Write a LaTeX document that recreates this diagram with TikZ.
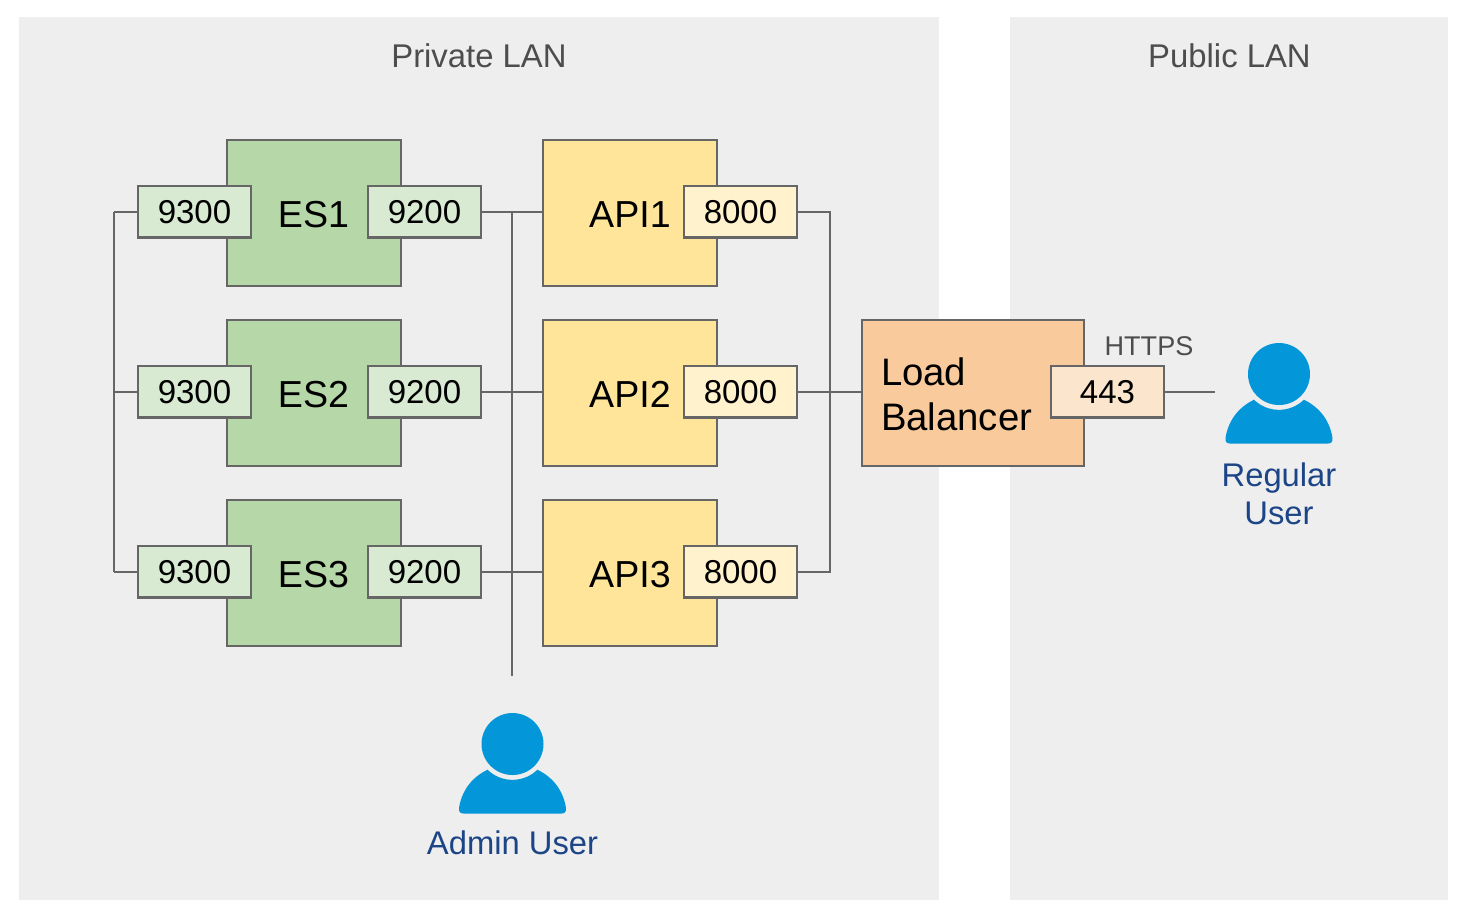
\documentclass[tikz,border=0pt]{standalone}
\usepackage{fontspec}
\setmainfont{Liberation Sans}
\usetikzlibrary{positioning}
\definecolor{mpanel}{HTML}{EEEEEE}
\definecolor{medge}{HTML}{666666}
\definecolor{mtitle}{HTML}{4D4D4D}
\definecolor{mgreen}{HTML}{B6D7A8}
\definecolor{mgreenl}{HTML}{D9EAD3}
\definecolor{myellow}{HTML}{FFE599}
\definecolor{myellowl}{HTML}{FFF2CC}
\definecolor{morange}{HTML}{F9CB9C}
\definecolor{morangel}{HTML}{FCE5CD}
\definecolor{micon}{HTML}{0397D9}
\definecolor{mname}{HTML}{1C4587}
\tikzset{panel/.style = {fill = mpanel, draw = none, minimum height = 8.83cm},
         paneltitle/.style = {text = mtitle, font = \fontsize{9.35}{11}\selectfont},
         hostbox/.style = {draw = medge, line width = 0.6pt, minimum width = 1.74cm,
                           minimum height = 1.46cm, font = \fontsize{10.7}{12}\selectfont},
         portbox/.style = {draw = medge, line width = 0.65pt, minimum width = 1.13cm,
                           minimum height = 0.515cm, inner sep = 0pt,
                           font = \fontsize{9.4}{11}\selectfont},
         wire/.style = {draw = medge, line width = 0.6pt},
         username/.style = {text = mname, align = center,
                            font = \fontsize{9.32}{10.9}\selectfont},
         usericon/.pic = {
           \fill [micon] (0, 0) circle (0.31);
           \fill [micon] (-0.25, -0.257) arc (225.8:314.2:0.358)
             .. controls (0.42, -0.34) and (0.51, -0.48) .. (0.535, -0.64)
             .. controls (0.54, -0.68) and (0.52, -0.695) .. (0.49, -0.695)
             -- (-0.49, -0.695)
             .. controls (-0.52, -0.695) and (-0.54, -0.68) .. (-0.535, -0.64)
             .. controls (-0.51, -0.48) and (-0.42, -0.34) .. (-0.25, -0.257) -- cycle;
         }}
\begin{document}
\begin{tikzpicture}
      \useasboundingbox (0, 0) rectangle (14.68, -9.14);
      % the two networks
      \node [panel, minimum width = 9.2cm] (private) at (4.79, -4.585) {};
      \node [panel, minimum width = 4.38cm] (public) at (12.29, -4.585) {};
      \node [paneltitle] (privatetitle) at (4.79, -0.56) {Private LAN};
      \node [paneltitle] (publictitle) at (12.295, -0.56) {Public LAN};
      % hosts and their ports
      \foreach \n/\y in {1/-2.13, 2/-3.93, 3/-5.73} {
        \node [hostbox, fill = mgreen, text height = 0.295cm, text depth = 0cm] (es\n) at (3.14, \y) {\hspace{-0.01cm}ES\n};
        \node [portbox, fill = mgreenl] (esa\n) at (1.945, \y + 0.012) {9300};
        \node [portbox, fill = mgreenl] (esb\n) at (4.245, \y + 0.012) {9200};
        \node [hostbox, fill = myellow, text height = 0.295cm, text depth = 0cm] (api\n) at (6.30, \y) {API\n};
        \node [portbox, fill = myellowl] (apip\n) at (7.405, \y + 0.012) {8000};
      }
      \node [hostbox, fill = morange, minimum width = 2.22cm, text width = 1.84cm,
             inner xsep = 0.19cm, align = left,
             font = \fontsize{10.9}{12.8}\selectfont] (lb) at (9.73, -3.93) {\rule{0pt}{0.295cm}Load\\Balancer};
      \node [portbox, fill = morangel] (lbp) at (11.075, -3.918) {443};
      \node [paneltitle, font = \fontsize{7.7}{9}\selectfont] (https) at (11.49, -3.46) {HTTPS};
      % users
      \pic at (5.125, -7.44) {usericon};
      \pic at (12.79, -3.74) {usericon};
      \node [username] (admin) at (5.125, -8.43) {Admin User};
      \node [username] (regular) at (12.79, -4.94) {Regular\\User};
      % connectors
      \coordinate (busl) at (1.14, 0);
      \coordinate (busr) at (8.30, 0);
      \coordinate (adminend) at (5.12, -6.76);
      \coordinate (regularend) at (12.15, 0);
      \foreach \n in {1, 2, 3} {
        \draw [wire] (esa\n.west) -- (esa\n.west -| busl);
        \draw [wire] (esb\n.east) -- (esb\n.east -| api\n.west);
      }
      \draw [wire] (esa1.west -| busl) -- (esa3.west -| busl);
      \draw [wire] (esb1.east -| adminend) -- (adminend);
      \draw [wire] (apip1.east) -- (apip1.east -| busr) -- (apip3.east -| busr) -- (apip3.east);
      \draw [wire] (apip2.east) -- (apip2.east -| lb.west);
      \draw [wire] (lbp.east) -- (lbp.east -| regularend);
    \end{tikzpicture}
\end{document}
